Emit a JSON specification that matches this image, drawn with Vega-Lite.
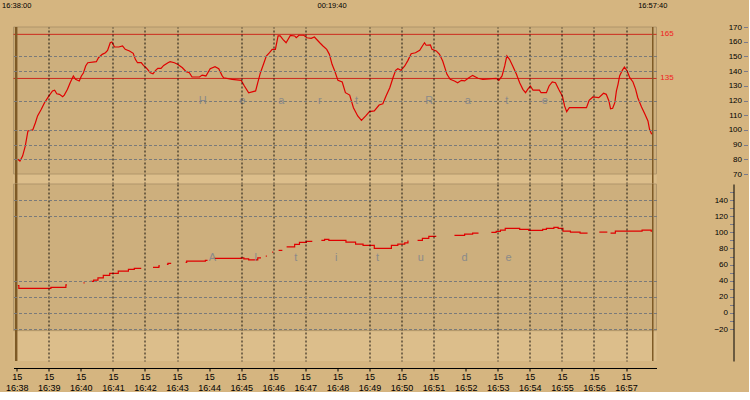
{
  "$schema": "https://vega.github.io/schema/vega-lite/v6.json",
  "background": "#D5B580",
  "padding": {"left": 1.5, "top": 1, "right": 0, "bottom": 0},
  "spacing": 0,
  "bounds": "flush",
  "config": {"view": {"stroke": null}, "font": "Liberation Sans"},
  "vconcat": [
    {
      "width": 643,
      "height": 157,
      "view": {"fill": "#DCBE8B", "stroke": null},
      "layer": [
        {
          "data": {"values": [{"lo": 70, "hi": 170}]},
          "mark": {"type": "rect", "fill": "#CDAF7D", "stroke": "#B0956A", "strokeWidth": 1},
          "encoding": {
            "y": {"field": "lo", "type": "quantitative", "title": null,
              "scale": {"domain": [63.2, 170], "nice": false, "zero": false},
              "axis": {"orient": "left", "offset": -734, "values": [70,80,90,100,110,120,130,140,150,160,170], "tickCount": 100,
                "domain": false, "tickColor": "#7a7a8a", "tickSize": 4, "labelPadding": 2, "labelFontSize": 8, "labelColor": "#000", "labelOverlap": false,
                "grid": true, "gridColor": "#7a7a7a", "gridDash": [3, 2],
                "gridOpacity": {"condition": {"test": "indexof([80,90,100,120,140,150], datum.value) >= 0", "value": 1}, "value": 0},
                "zindex": 1, "title": null}},
            "y2": {"field": "hi"}
          }
        },
        {
          "data": {"values": [{"lim": 165}, {"lim": 135}]},
          "mark": {"type": "rule", "color": "#CC2A1E", "strokeWidth": 1},
          "encoding": {"y": {"field": "lim", "type": "quantitative", "title": null}}
        },
        {
          "data": {"values": [{"lim": 165, "t": "2015-01-15T16:58:04"}, {"lim": 135, "t": "2015-01-15T16:58:04"}]},
          "mark": {"type": "text", "color": "#F02020", "fontSize": 8, "align": "left", "baseline": "middle"},
          "encoding": {
            "x": {"field": "t", "type": "temporal", "title": null},
            "y": {"field": "lim", "type": "quantitative", "title": null},
            "text": {"field": "lim"}
          }
        },
        {
          "data": {"values": [
            {"t":"2015-01-15T16:38:02","hr":80},{"t":"2015-01-15T16:38:06","hr":78.8},{"t":"2015-01-15T16:38:11","hr":82.2},{"t":"2015-01-15T16:38:16","hr":89},{"t":"2015-01-15T16:38:21","hr":99.3},
            {"t":"2015-01-15T16:38:30","hr":100},{"t":"2015-01-15T16:38:35","hr":104.9},{"t":"2015-01-15T16:38:39","hr":109.5},{"t":"2015-01-15T16:38:46","hr":114},{"t":"2015-01-15T16:38:52","hr":118.5},
            {"t":"2015-01-15T16:39:00","hr":123},{"t":"2015-01-15T16:39:07","hr":126.5},{"t":"2015-01-15T16:39:11","hr":127},{"t":"2015-01-15T16:39:15","hr":124.6},{"t":"2015-01-15T16:39:20","hr":124.2},
            {"t":"2015-01-15T16:39:26","hr":122.6},{"t":"2015-01-15T16:39:29","hr":123.7},{"t":"2015-01-15T16:39:35","hr":127.6},{"t":"2015-01-15T16:39:40","hr":132},{"t":"2015-01-15T16:39:46","hr":136.7},
            {"t":"2015-01-15T16:39:50","hr":134.4},{"t":"2015-01-15T16:39:57","hr":133.3},{"t":"2015-01-15T16:40:01","hr":136.7},{"t":"2015-01-15T16:40:05","hr":138.9},{"t":"2015-01-15T16:40:09","hr":143.5},
            {"t":"2015-01-15T16:40:13","hr":145.7},{"t":"2015-01-15T16:40:29","hr":146.4},{"t":"2015-01-15T16:40:33","hr":149.1},{"t":"2015-01-15T16:40:40","hr":151.4},{"t":"2015-01-15T16:40:46","hr":152.5},
            {"t":"2015-01-15T16:40:50","hr":154.1},{"t":"2015-01-15T16:40:55","hr":159.3},{"t":"2015-01-15T16:40:58","hr":159.8},{"t":"2015-01-15T16:41:03","hr":156.4},{"t":"2015-01-15T16:41:11","hr":156.4},
            {"t":"2015-01-15T16:41:18","hr":157.1},{"t":"2015-01-15T16:41:23","hr":154.8},{"t":"2015-01-15T16:41:31","hr":153.7},{"t":"2015-01-15T16:41:38","hr":152.1},{"t":"2015-01-15T16:41:42","hr":148},
            {"t":"2015-01-15T16:41:46","hr":145.7},{"t":"2015-01-15T16:41:53","hr":145.7},{"t":"2015-01-15T16:41:57","hr":143.9},{"t":"2015-01-15T16:42:02","hr":142.3},{"t":"2015-01-15T16:42:10","hr":138.9},
            {"t":"2015-01-15T16:42:15","hr":138.2},{"t":"2015-01-15T16:42:20","hr":140.5},{"t":"2015-01-15T16:42:24","hr":141.9},{"t":"2015-01-15T16:42:30","hr":141.9},{"t":"2015-01-15T16:42:35","hr":143.9},
            {"t":"2015-01-15T16:42:43","hr":145.7},{"t":"2015-01-15T16:42:47","hr":146.4},{"t":"2015-01-15T16:42:55","hr":145.7},{"t":"2015-01-15T16:43:01","hr":144.6},{"t":"2015-01-15T16:43:10","hr":142.3},
            {"t":"2015-01-15T16:43:17","hr":139.6},{"t":"2015-01-15T16:43:23","hr":138.9},{"t":"2015-01-15T16:43:28","hr":136},{"t":"2015-01-15T16:43:42","hr":136},{"t":"2015-01-15T16:43:47","hr":137.3},
            {"t":"2015-01-15T16:43:54","hr":136.7},{"t":"2015-01-15T16:44:02","hr":141.6},{"t":"2015-01-15T16:44:11","hr":143},{"t":"2015-01-15T16:44:18","hr":141.6},{"t":"2015-01-15T16:44:24","hr":137.1},
            {"t":"2015-01-15T16:44:27","hr":135.5},{"t":"2015-01-15T16:44:43","hr":134.4},{"t":"2015-01-15T16:45:00","hr":133.7},{"t":"2015-01-15T16:45:06","hr":129.9},{"t":"2015-01-15T16:45:14","hr":125.3},
            {"t":"2015-01-15T16:45:27","hr":126.5},{"t":"2015-01-15T16:45:31","hr":132.1},{"t":"2015-01-15T16:45:36","hr":138.9},{"t":"2015-01-15T16:45:42","hr":145},{"t":"2015-01-15T16:45:47","hr":150.3},
            {"t":"2015-01-15T16:45:53","hr":152.5},{"t":"2015-01-15T16:45:58","hr":154.8},{"t":"2015-01-15T16:46:04","hr":154.8},{"t":"2015-01-15T16:46:09","hr":163.9},{"t":"2015-01-15T16:46:13","hr":163.9},
            {"t":"2015-01-15T16:46:18","hr":161.6},{"t":"2015-01-15T16:46:24","hr":159.3},{"t":"2015-01-15T16:46:32","hr":164.3},{"t":"2015-01-15T16:46:40","hr":163.9},{"t":"2015-01-15T16:46:43","hr":162.7},
            {"t":"2015-01-15T16:46:48","hr":164.4},{"t":"2015-01-15T16:46:57","hr":164.4},{"t":"2015-01-15T16:47:03","hr":162.7},{"t":"2015-01-15T16:47:11","hr":162.3},{"t":"2015-01-15T16:47:17","hr":163.2},
            {"t":"2015-01-15T16:47:27","hr":159.3},{"t":"2015-01-15T16:47:33","hr":157.1},{"t":"2015-01-15T16:47:40","hr":154.8},{"t":"2015-01-15T16:47:45","hr":151.4},{"t":"2015-01-15T16:47:50","hr":144.6},
            {"t":"2015-01-15T16:47:55","hr":140.1},{"t":"2015-01-15T16:48:01","hr":133.7},{"t":"2015-01-15T16:48:09","hr":132.6},{"t":"2015-01-15T16:48:15","hr":125.3},{"t":"2015-01-15T16:48:23","hr":123.7},
            {"t":"2015-01-15T16:48:30","hr":115.1},{"t":"2015-01-15T16:48:38","hr":109.5},{"t":"2015-01-15T16:48:45","hr":106.5},{"t":"2015-01-15T16:48:53","hr":109.5},{"t":"2015-01-15T16:49:00","hr":112.4},
            {"t":"2015-01-15T16:49:09","hr":112.9},{"t":"2015-01-15T16:49:18","hr":116.9},{"t":"2015-01-15T16:49:25","hr":117.8},{"t":"2015-01-15T16:49:31","hr":123},{"t":"2015-01-15T16:49:38","hr":128.7},
            {"t":"2015-01-15T16:49:44","hr":135.5},{"t":"2015-01-15T16:49:49","hr":140.5},{"t":"2015-01-15T16:49:53","hr":141.6},{"t":"2015-01-15T16:49:59","hr":140.5},{"t":"2015-01-15T16:50:06","hr":143.5},
            {"t":"2015-01-15T16:50:12","hr":147.3},{"t":"2015-01-15T16:50:18","hr":151.8},{"t":"2015-01-15T16:50:26","hr":152.5},{"t":"2015-01-15T16:50:34","hr":154.1},{"t":"2015-01-15T16:50:39","hr":157.1},
            {"t":"2015-01-15T16:50:43","hr":159.3},{"t":"2015-01-15T16:50:46","hr":157.6},{"t":"2015-01-15T16:50:54","hr":157.8},{"t":"2015-01-15T16:50:57","hr":154.8},{"t":"2015-01-15T16:51:05","hr":153.7},
            {"t":"2015-01-15T16:51:11","hr":151.4},{"t":"2015-01-15T16:51:17","hr":146.9},{"t":"2015-01-15T16:51:25","hr":137.8},{"t":"2015-01-15T16:51:31","hr":134.4},{"t":"2015-01-15T16:51:39","hr":133.3},
            {"t":"2015-01-15T16:51:45","hr":132.1},{"t":"2015-01-15T16:51:52","hr":133.7},{"t":"2015-01-15T16:51:58","hr":133.3},{"t":"2015-01-15T16:52:06","hr":135.5},{"t":"2015-01-15T16:52:13","hr":137.1},
            {"t":"2015-01-15T16:52:23","hr":135.1},{"t":"2015-01-15T16:52:32","hr":134.4},{"t":"2015-01-15T16:52:57","hr":135.1},{"t":"2015-01-15T16:53:02","hr":133.7},{"t":"2015-01-15T16:53:08","hr":136.7},
            {"t":"2015-01-15T16:53:13","hr":143.5},{"t":"2015-01-15T16:53:17","hr":150.3},{"t":"2015-01-15T16:53:22","hr":148},{"t":"2015-01-15T16:53:28","hr":143.5},{"t":"2015-01-15T16:53:35","hr":137.8},
            {"t":"2015-01-15T16:53:41","hr":132.1},{"t":"2015-01-15T16:53:47","hr":127.6},{"t":"2015-01-15T16:53:52","hr":125.3},{"t":"2015-01-15T16:53:56","hr":127.6},{"t":"2015-01-15T16:54:01","hr":129.9},
            {"t":"2015-01-15T16:54:06","hr":127},{"t":"2015-01-15T16:54:18","hr":127},{"t":"2015-01-15T16:54:21","hr":125.3},{"t":"2015-01-15T16:54:31","hr":125.3},{"t":"2015-01-15T16:54:36","hr":129.9},
            {"t":"2015-01-15T16:54:42","hr":132.6},{"t":"2015-01-15T16:54:48","hr":132.1},{"t":"2015-01-15T16:54:54","hr":127.6},{"t":"2015-01-15T16:55:01","hr":123},{"t":"2015-01-15T16:55:05","hr":116.3},
            {"t":"2015-01-15T16:55:09","hr":112.4},{"t":"2015-01-15T16:55:14","hr":115.1},{"t":"2015-01-15T16:55:46","hr":115.1},{"t":"2015-01-15T16:55:51","hr":120.1},{"t":"2015-01-15T16:55:58","hr":122.4},
            {"t":"2015-01-15T16:56:09","hr":121.9},{"t":"2015-01-15T16:56:18","hr":124.9},{"t":"2015-01-15T16:56:23","hr":124.2},{"t":"2015-01-15T16:56:28","hr":119.7},{"t":"2015-01-15T16:56:31","hr":114.4},
            {"t":"2015-01-15T16:56:35","hr":114.7},{"t":"2015-01-15T16:56:39","hr":118.5},{"t":"2015-01-15T16:56:42","hr":126.5},{"t":"2015-01-15T16:56:45","hr":131},{"t":"2015-01-15T16:56:48","hr":136.7},
            {"t":"2015-01-15T16:56:53","hr":140.5},{"t":"2015-01-15T16:56:57","hr":142.8},{"t":"2015-01-15T16:57:02","hr":140.1},{"t":"2015-01-15T16:57:07","hr":135.5},{"t":"2015-01-15T16:57:13","hr":132.6},
            {"t":"2015-01-15T16:57:18","hr":127.6},{"t":"2015-01-15T16:57:22","hr":121.9},{"t":"2015-01-15T16:57:29","hr":115.6},{"t":"2015-01-15T16:57:35","hr":111},{"t":"2015-01-15T16:57:41","hr":106.1},
            {"t":"2015-01-15T16:57:44","hr":100.4},{"t":"2015-01-15T16:57:48","hr":97}
          ]},
          "mark": {"type": "line", "color": "#E00000", "strokeWidth": 1.2},
          "encoding": {
            "x": {"field": "t", "type": "temporal", "title": null,
              "scale": {"domain": [{"year": 2015, "month": 1, "date": 15, "hours": 16, "minutes": 37, "seconds": 54}, {"year": 2015, "month": 1, "date": 15, "hours": 16, "minutes": 57, "seconds": 57}], "nice": false},
              "axis": {"orient": "top", "labels": false, "ticks": false, "domain": false, "grid": true, "gridColor": "#000", "gridDash": [2, 2],
                "gridOpacity": {"condition": {"test": "indexof([38,40,44,48,52], minutes(datum.value)) >= 0", "value": 0}, "value": 0.9},
                "tickCount": 20, "zindex": 1, "title": null}},
            "y": {"field": "hr", "type": "quantitative", "title": null}
          }
        },
        {
          "data": {"values": [
            {"t":"2015-01-15T16:43:48","ch":"H"},{"t":"2015-01-15T16:45:02","ch":"e"},{"t":"2015-01-15T16:46:15","ch":"a"},{"t":"2015-01-15T16:47:27","ch":"r"},{"t":"2015-01-15T16:48:36","ch":"t"},
            {"t":"2015-01-15T16:50:52","ch":"R"},{"t":"2015-01-15T16:52:04","ch":"a"},{"t":"2015-01-15T16:53:17","ch":"t"},{"t":"2015-01-15T16:54:28","ch":"e"}
          ]},
          "mark": {"type": "text", "fontSize": 11, "color": "#8a8a8a", "baseline": "middle"},
          "encoding": {
            "x": {"field": "t", "type": "temporal", "title": null},
            "y": {"datum": 120, "type": "quantitative", "title": null},
            "text": {"field": "ch"}
          }
        },
        {
          "data": {"values": [
            {"t":"2015-01-15T16:38:00","txt":"16:38:00"},{"t":"2015-01-15T16:47:50","txt":"00:19:40"},{"t":"2015-01-15T16:57:50","txt":"16:57:40"}
          ]},
          "mark": {"type": "text", "fontSize": 7.5, "color": "#000", "baseline": "middle"},
          "encoding": {
            "x": {"field": "t", "type": "temporal", "title": null},
            "y": {"datum": 184.5, "type": "quantitative", "title": null},
            "text": {"field": "txt"}
          }
        },
        {
          "data": {"values": [{"t": "2015-01-15T16:37:59", "w": "start"}, {"t": "2015-01-15T16:57:50", "w": "end"}]},
          "mark": {"type": "rule", "color": "#7E5A26"},
          "encoding": {
            "x": {"field": "t", "type": "temporal", "title": null},
            "strokeWidth": {"field": "w", "type": "nominal", "scale": {"domain": ["start", "end"], "range": [2.5, 1.5]}, "legend": null}
          }
        }
      ]
    },
    {
      "width": 643,
      "height": 177,
      "view": {"fill": "#DCBE8B", "stroke": null},
      "layer": [
        {
          "data": {"values": [{"lo": -22, "hi": 160}]},
          "mark": {"type": "rect", "fill": "#CDAF7D", "stroke": "#B0956A", "strokeWidth": 1},
          "encoding": {
            "y": {"field": "lo", "type": "quantitative", "title": null,
              "scale": {"domain": [-59.7, 160], "nice": false, "zero": false},
              "axis": {"orient": "left", "offset": -720, "values": [-20,-10,0,10,20,30,40,50,60,70,80,90,100,110,120,130,140,150], "tickCount": 100,
                "labelExpr": "datum.value % 20 == 0 && datum.value <= 140 ? datum.label : ''",
                "domain": true, "domainColor": "#000", "tickColor": "#7a7a8a", "tickSize": 4, "labelPadding": 2, "labelFontSize": 8, "labelColor": "#000", "labelOverlap": false,
                "grid": true, "gridColor": "#7a7a7a", "gridDash": [3, 2],
                "gridOpacity": {"condition": {"test": "indexof([-20,0,20,40,120,140], datum.value) >= 0", "value": 1}, "value": 0},
                "zindex": 1, "title": null}},
            "y2": {"field": "hi"}
          }
        },
        {
          "data": {"values": [
            {"s":"a","t":"2015-01-15T16:38:02","alt":34},{"s":"a","t":"2015-01-15T16:38:04","alt":30.4},{"s":"a","t":"2015-01-15T16:39:04","alt":31.6},{"s":"a","t":"2015-01-15T16:39:32","alt":34.9},{"s":"a","t":"2015-01-15T16:39:34","alt":34.9},
            {"s":"b","t":"2015-01-15T16:40:05","alt":37.3},{"s":"b","t":"2015-01-15T16:40:07","alt":37.3},
            {"s":"c","t":"2015-01-15T16:40:18","alt":39.1},{"s":"c","t":"2015-01-15T16:40:24","alt":40.7},{"s":"c","t":"2015-01-15T16:40:32","alt":43.6},{"s":"c","t":"2015-01-15T16:40:42","alt":46.5},{"s":"c","t":"2015-01-15T16:40:54","alt":49},
            {"s":"c","t":"2015-01-15T16:41:10","alt":51.9},{"s":"c","t":"2015-01-15T16:41:29","alt":54},{"s":"c","t":"2015-01-15T16:41:40","alt":55.2},{"s":"c","t":"2015-01-15T16:41:53","alt":55.2},
            {"s":"d","t":"2015-01-15T16:42:15","alt":56.5},{"s":"d","t":"2015-01-15T16:42:26","alt":58.4},{"s":"d","t":"2015-01-15T16:42:28","alt":58.4},
            {"s":"e","t":"2015-01-15T16:42:41","alt":60.2},{"s":"e","t":"2015-01-15T16:42:43","alt":61.4},{"s":"e","t":"2015-01-15T16:42:49","alt":61.4},
            {"s":"f","t":"2015-01-15T16:43:16","alt":62.7},{"s":"f","t":"2015-01-15T16:43:18","alt":64.3},{"s":"f","t":"2015-01-15T16:43:53","alt":65.1},{"s":"f","t":"2015-01-15T16:43:57","alt":65.1},
            {"s":"g","t":"2015-01-15T16:44:07","alt":67.6},{"s":"g","t":"2015-01-15T16:45:00","alt":68.4},{"s":"g","t":"2015-01-15T16:45:05","alt":67.1},{"s":"g","t":"2015-01-15T16:45:14","alt":65.9},{"s":"g","t":"2015-01-15T16:45:31","alt":68.4},{"s":"g","t":"2015-01-15T16:45:37","alt":68.4},
            {"s":"h","t":"2015-01-15T16:45:46","alt":70.5},{"s":"h","t":"2015-01-15T16:45:48","alt":70.5},
            {"s":"i","t":"2015-01-15T16:45:58","alt":75.5},{"s":"i","t":"2015-01-15T16:46:00","alt":75.5},
            {"s":"j","t":"2015-01-15T16:46:10","alt":77.6},{"s":"j","t":"2015-01-15T16:46:17","alt":77.6},
            {"s":"k","t":"2015-01-15T16:46:25","alt":82},{"s":"k","t":"2015-01-15T16:46:40","alt":85},{"s":"k","t":"2015-01-15T16:46:49","alt":87.5},{"s":"k","t":"2015-01-15T16:47:02","alt":88.7},{"s":"k","t":"2015-01-15T16:47:13","alt":88.7},
            {"s":"l","t":"2015-01-15T16:47:30","alt":90},{"s":"l","t":"2015-01-15T16:47:36","alt":91.2},{"s":"l","t":"2015-01-15T16:47:44","alt":90},{"s":"l","t":"2015-01-15T16:48:16","alt":87.9},{"s":"l","t":"2015-01-15T16:48:34","alt":85.4},{"s":"l","t":"2015-01-15T16:48:48","alt":83.8},
            {"s":"l","t":"2015-01-15T16:49:09","alt":80},{"s":"l","t":"2015-01-15T16:49:41","alt":83.8},{"s":"l","t":"2015-01-15T16:49:53","alt":85.4},{"s":"l","t":"2015-01-15T16:50:06","alt":87},{"s":"l","t":"2015-01-15T16:50:12","alt":89.2},{"s":"l","t":"2015-01-15T16:50:13","alt":89.2},
            {"s":"m","t":"2015-01-15T16:50:30","alt":90},{"s":"m","t":"2015-01-15T16:50:39","alt":92.5},{"s":"m","t":"2015-01-15T16:50:51","alt":95},{"s":"m","t":"2015-01-15T16:51:05","alt":95},
            {"s":"n","t":"2015-01-15T16:51:39","alt":96.2},{"s":"n","t":"2015-01-15T16:51:58","alt":97.8},{"s":"n","t":"2015-01-15T16:52:13","alt":99.1},{"s":"n","t":"2015-01-15T16:52:24","alt":99.1},
            {"s":"o","t":"2015-01-15T16:52:48","alt":100},{"s":"o","t":"2015-01-15T16:52:57","alt":101.2},{"s":"o","t":"2015-01-15T16:53:05","alt":102.8},{"s":"o","t":"2015-01-15T16:53:14","alt":104.9},{"s":"o","t":"2015-01-15T16:53:41","alt":103.7},
            {"s":"o","t":"2015-01-15T16:53:58","alt":102.4},{"s":"o","t":"2015-01-15T16:54:24","alt":103.7},{"s":"o","t":"2015-01-15T16:54:31","alt":104.9},{"s":"o","t":"2015-01-15T16:54:45","alt":106.2},{"s":"o","t":"2015-01-15T16:54:53","alt":104.9},
            {"s":"o","t":"2015-01-15T16:55:02","alt":101.5},{"s":"o","t":"2015-01-15T16:55:16","alt":100.3},{"s":"o","t":"2015-01-15T16:55:34","alt":99.1},{"s":"o","t":"2015-01-15T16:55:48","alt":99.1},
            {"s":"p","t":"2015-01-15T16:56:10","alt":100.3},{"s":"p","t":"2015-01-15T16:56:25","alt":100.3},
            {"s":"q","t":"2015-01-15T16:56:31","alt":99.1},{"s":"q","t":"2015-01-15T16:56:40","alt":101.5},{"s":"q","t":"2015-01-15T16:57:30","alt":102.8},{"s":"q","t":"2015-01-15T16:57:47","alt":101.5},{"s":"q","t":"2015-01-15T16:57:50","alt":101.5}
          ]},
          "mark": {"type": "line", "color": "#E00000", "strokeWidth": 1.2, "interpolate": "step-after"},
          "encoding": {
            "x": {"field": "t", "type": "temporal", "title": null,
              "scale": {"domain": [{"year": 2015, "month": 1, "date": 15, "hours": 16, "minutes": 37, "seconds": 54}, {"year": 2015, "month": 1, "date": 15, "hours": 16, "minutes": 57, "seconds": 57}], "nice": false},
              "axis": {"orient": "bottom", "offset": 7, "domain": true, "domainColor": "#000", "ticks": true, "tickColor": "#000", "tickSize": 3,
                "labelExpr": "['15', timeFormat(datum.value, '%H:%M')]", "labelFontSize": 9, "labelColor": "#000", "labelLineHeight": 11,
                "labelPadding": 1, "labelFlush": false, "labelOverlap": false, "labelAngle": 0,
                "grid": true, "gridColor": "#000", "gridDash": [2, 2],
                "gridOpacity": {"condition": {"test": "indexof([38,40,44,48,52], minutes(datum.value)) >= 0", "value": 0}, "value": 0.9},
                "tickCount": 20, "zindex": 1, "title": null}},
            "y": {"field": "alt", "type": "quantitative", "title": null},
            "detail": {"field": "s", "type": "nominal"}
          }
        },
        {
          "data": {"values": [
            {"t":"2015-01-15T16:44:06","ch":"A"},{"t":"2015-01-15T16:45:27","ch":"l"},{"t":"2015-01-15T16:46:42","ch":"t"},{"t":"2015-01-15T16:47:58","ch":"i"},
            {"t":"2015-01-15T16:49:15","ch":"t"},{"t":"2015-01-15T16:50:36","ch":"u"},{"t":"2015-01-15T16:51:58","ch":"d"},{"t":"2015-01-15T16:53:20","ch":"e"}
          ]},
          "mark": {"type": "text", "fontSize": 11, "color": "#8a8a8a", "baseline": "middle"},
          "encoding": {
            "x": {"field": "t", "type": "temporal", "title": null},
            "y": {"datum": 68, "type": "quantitative", "title": null},
            "text": {"field": "ch"}
          }
        },
        {
          "data": {"values": [{"t": "2015-01-15T16:37:59", "w": "start"}, {"t": "2015-01-15T16:57:50", "w": "end"}]},
          "mark": {"type": "rule", "color": "#7E5A26"},
          "encoding": {
            "x": {"field": "t", "type": "temporal", "title": null},
            "strokeWidth": {"field": "w", "type": "nominal", "scale": {"domain": ["start", "end"], "range": [2.5, 1.5]}, "legend": null}
          }
        }
      ]
    }
  ]
}
